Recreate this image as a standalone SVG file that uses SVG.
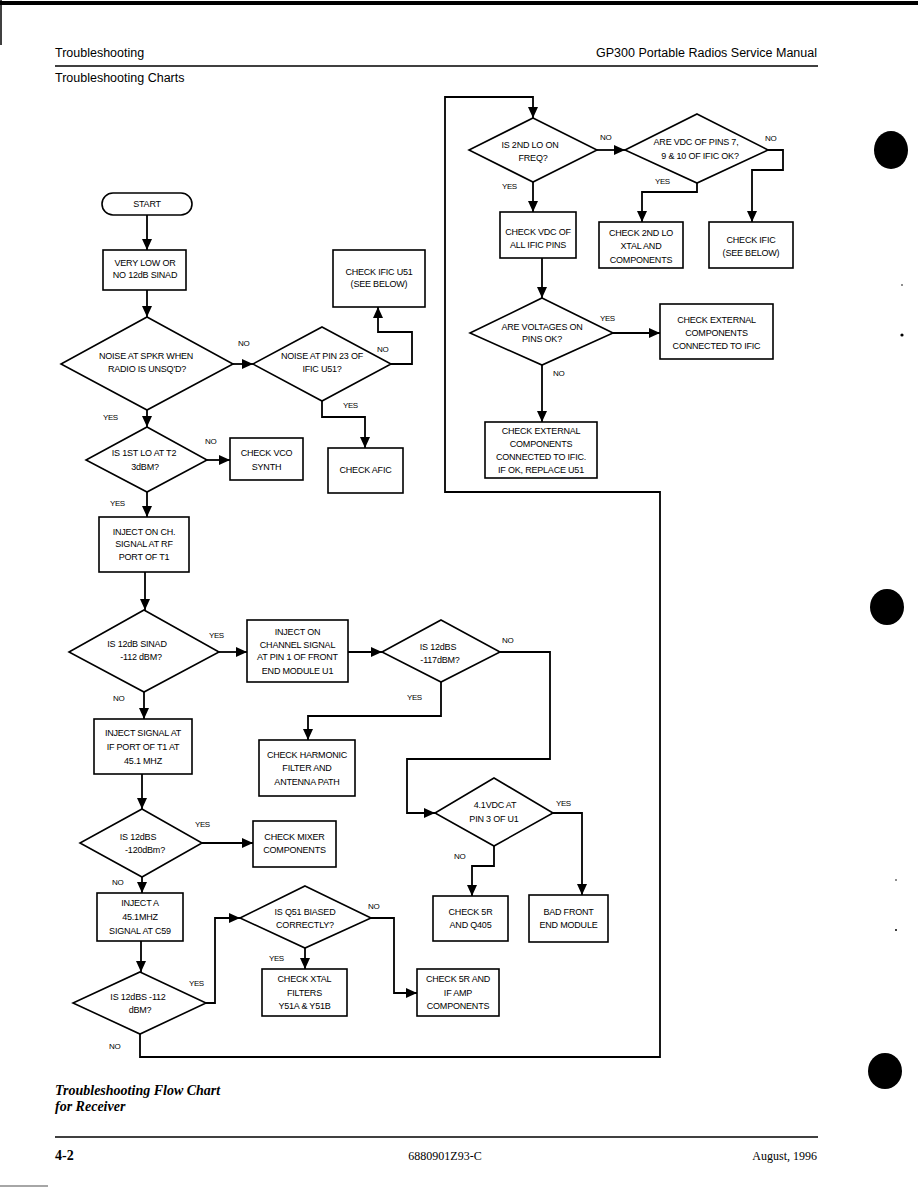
<svg xmlns="http://www.w3.org/2000/svg" width="918" height="1188" viewBox="0 0 918 1188">
<style>
.bx{fill:#fff;stroke:#000;stroke-width:1.6}
.t{font-family:"Liberation Sans",Arial,sans-serif;font-size:9px;text-anchor:middle;fill:#000;letter-spacing:-0.2px}
.l{font-family:"Liberation Sans",Arial,sans-serif;font-size:8px;fill:#000;letter-spacing:-0.4px}
.c{fill:none;stroke:#000;stroke-width:1.8}
.h{font-family:"Liberation Sans",Arial,sans-serif;font-size:12.5px;fill:#000}
.f{font-family:"Liberation Serif","Times New Roman",serif;fill:#000}
</style>
<defs>
<marker id="ah" markerUnits="userSpaceOnUse" markerWidth="12" markerHeight="12" refX="11" refY="6" orient="auto">
<path d="M0,1 L11,6 L0,11 Z" fill="#000"/>
</marker>
</defs>
<rect width="918" height="1188" fill="#fff"/>
<g id="page">
<rect x="0" y="1" width="918" height="4" fill="#000"/>
<line x1="1" y1="0" x2="1" y2="45" stroke="#000" stroke-width="1.5"/>
<text class="h" x="55" y="57">Troubleshooting</text>
<text class="h" x="817" y="57" text-anchor="end">GP300 Portable Radios Service Manual</text>
<line x1="55" y1="66" x2="818" y2="66" stroke="#000" stroke-width="1.5"/>
<text class="h" x="55" y="82">Troubleshooting Charts</text>
<text class="f" x="55" y="1095" font-size="14" font-style="italic" font-weight="bold">Troubleshooting Flow Chart</text>
<text class="f" x="55" y="1111" font-size="14" font-style="italic" font-weight="bold">for Receiver</text>
<line x1="55" y1="1137" x2="818" y2="1137" stroke="#000" stroke-width="1.5"/>
<text class="f" x="55" y="1160" font-size="14" font-weight="bold">4-2</text>
<text class="f" x="445" y="1160" font-size="12" text-anchor="middle">6880901Z93-C</text>
<text class="f" x="817" y="1160" font-size="12" text-anchor="end">August, 1996</text>
<line x1="0" y1="1186" x2="48" y2="1186" stroke="#888" stroke-width="1.5"/>
<ellipse cx="891" cy="150" rx="17" ry="19" fill="#000"/>
<ellipse cx="887" cy="607" rx="17" ry="18" fill="#000"/>
<ellipse cx="885" cy="1071" rx="17" ry="18" fill="#000"/>
<circle cx="902" cy="335" r="1.6" fill="#000"/>
<circle cx="902" cy="285" r="0.8" fill="#000"/>
<circle cx="896" cy="930" r="1" fill="#000"/>
<circle cx="896" cy="880" r="0.8" fill="#000"/>
</g>
<g id="connectors">
<path class="c" d="M147,215 V250" marker-end="url(#ah)"/>
<path class="c" d="M147,290 V317" marker-end="url(#ah)"/>
<path class="c" d="M233,364 H253" marker-end="url(#ah)"/>
<path class="c" d="M391,364 H412 V332 H378 V307" marker-end="url(#ah)"/>
<path class="c" d="M322,401 V417 H365 V448" marker-end="url(#ah)"/>
<path class="c" d="M147,410 V427" marker-end="url(#ah)"/>
<path class="c" d="M207,460 H230" marker-end="url(#ah)"/>
<path class="c" d="M147,492 V517" marker-end="url(#ah)"/>
<path class="c" d="M145,572 V610" marker-end="url(#ah)"/>
<path class="c" d="M219,652 H247" marker-end="url(#ah)"/>
<path class="c" d="M144,692 V719" marker-end="url(#ah)"/>
<path class="c" d="M348,652 H382" marker-end="url(#ah)"/>
<path class="c" d="M441,682 V716 H308 V740" marker-end="url(#ah)"/>
<path class="c" d="M500,652 H550 V759 H407 V813 H435" marker-end="url(#ah)"/>
<path class="c" d="M553,813 H582 V895" marker-end="url(#ah)"/>
<path class="c" d="M494,846 V866 H472 V896" marker-end="url(#ah)"/>
<path class="c" d="M142,774 V809" marker-end="url(#ah)"/>
<path class="c" d="M202,843 H253" marker-end="url(#ah)"/>
<path class="c" d="M142,877 V893" marker-end="url(#ah)"/>
<path class="c" d="M141,941 V972" marker-end="url(#ah)"/>
<path class="c" d="M206,1003 H215 V918 H240" marker-end="url(#ah)"/>
<path class="c" d="M140,1034 V1057 H660 V492 H445 V97 H533 V118" marker-end="url(#ah)"/>
<path class="c" d="M305,948 V969" marker-end="url(#ah)"/>
<path class="c" d="M371,918 H394 V993 H417" marker-end="url(#ah)"/>
<path class="c" d="M597,150 H625" marker-end="url(#ah)"/>
<path class="c" d="M533,182 V212" marker-end="url(#ah)"/>
<path class="c" d="M697,183 V192 H642 V222" marker-end="url(#ah)"/>
<path class="c" d="M768,150 H783 V170 H752 V222" marker-end="url(#ah)"/>
<path class="c" d="M542,258 V298" marker-end="url(#ah)"/>
<path class="c" d="M613,333 H660" marker-end="url(#ah)"/>
<path class="c" d="M542,365 V422" marker-end="url(#ah)"/>
<text class="l" x="238" y="346">NO</text>
<text class="l" x="377" y="352">NO</text>
<text class="l" x="343" y="408">YES</text>
<text class="l" x="103" y="420">YES</text>
<text class="l" x="205" y="444">NO</text>
<text class="l" x="110" y="506">YES</text>
<text class="l" x="209" y="638">YES</text>
<text class="l" x="113" y="701">NO</text>
<text class="l" x="407" y="700">YES</text>
<text class="l" x="502" y="643">NO</text>
<text class="l" x="556" y="806">YES</text>
<text class="l" x="454" y="859">NO</text>
<text class="l" x="195" y="827">YES</text>
<text class="l" x="112" y="885">NO</text>
<text class="l" x="189" y="986">YES</text>
<text class="l" x="109" y="1049">NO</text>
<text class="l" x="269" y="961">YES</text>
<text class="l" x="368" y="909">NO</text>
<text class="l" x="600" y="140">NO</text>
<text class="l" x="502" y="189">YES</text>
<text class="l" x="655" y="184">YES</text>
<text class="l" x="765" y="141">NO</text>
<text class="l" x="600" y="321">YES</text>
<text class="l" x="553" y="376">NO</text>
</g>
<g id="start"><rect class="bx" x="102" y="193" width="90" height="22" rx="11"/><text class="t" x="147" y="207">START</text></g>
<g id="very_low"><rect class="bx" x="103" y="250" width="83" height="40"/><text class="t" x="145" y="266">VERY LOW OR</text><text class="t" x="145" y="278">NO 12dB SINAD</text></g>
<g id="noise_spkr"><polygon class="bx" points="147,317 233,364 147,410 61,364"/><text class="t" x="146" y="359">NOISE AT SPKR WHEN</text><text class="t" x="147" y="372">RADIO IS UNSQ'D?</text></g>
<g id="noise_pin23"><polygon class="bx" points="322,327 391,364 322,401 253,364"/><text class="t" x="322" y="359">NOISE AT PIN 23 OF</text><text class="t" x="322" y="372">IFIC U51?</text></g>
<g id="check_ific_u51"><rect class="bx" x="333" y="250" width="92" height="57"/><text class="t" x="379" y="275">CHECK IFIC U51</text><text class="t" x="379" y="287">(SEE BELOW)</text></g>
<g id="check_afic"><rect class="bx" x="328" y="448" width="75" height="45"/><text class="t" x="365.5" y="473">CHECK AFIC</text></g>
<g id="first_lo"><polygon class="bx" points="147,427 207,460 147,492 86,460"/><text class="t" x="144" y="456">IS 1ST LO AT T2</text><text class="t" x="145" y="470">3dBM?</text></g>
<g id="check_vco"><rect class="bx" x="230" y="438" width="73" height="42"/><text class="t" x="266.5" y="456">CHECK VCO</text><text class="t" x="266.5" y="470">SYNTH</text></g>
<g id="inject_ch"><rect class="bx" x="99" y="517" width="90" height="55"/><text class="t" x="144" y="535">INJECT ON CH.</text><text class="t" x="144" y="547">SIGNAL AT RF</text><text class="t" x="144" y="560">PORT OF T1</text></g>
<g id="sinad_112"><polygon class="bx" points="144,610 219,652 144,692 69,652"/><text class="t" x="137" y="647">IS 12dB SINAD</text><text class="t" x="141" y="660">-112  dBM?</text></g>
<g id="inject_front"><rect class="bx" x="247" y="620" width="101" height="62"/><text class="t" x="297.5" y="635">INJECT ON</text><text class="t" x="297.5" y="648">CHANNEL SIGNAL</text><text class="t" x="297.5" y="660">AT PIN 1 OF FRONT</text><text class="t" x="297.5" y="674">END MODULE U1</text></g>
<g id="dbs_117"><polygon class="bx" points="441,620 500,652 441,682 382,652"/><text class="t" x="438" y="650">IS 12dBS</text><text class="t" x="440" y="663">-117dBM?</text></g>
<g id="check_harmonic"><rect class="bx" x="259" y="740" width="96" height="56"/><text class="t" x="307" y="758">CHECK HARMONIC</text><text class="t" x="307" y="771">FILTER AND</text><text class="t" x="307" y="785">ANTENNA PATH</text></g>
<g id="inject_if"><rect class="bx" x="94" y="719" width="98" height="55"/><text class="t" x="143" y="736">INJECT SIGNAL AT</text><text class="t" x="143" y="750">IF PORT OF T1 AT</text><text class="t" x="143" y="764">45.1  MHZ</text></g>
<g id="vdc_41"><polygon class="bx" points="494,778 553,813 494,846 435,813"/><text class="t" x="495" y="808">4.1VDC  AT</text><text class="t" x="494" y="822">PIN 3  OF U1</text></g>
<g id="check_5r_q405"><rect class="bx" x="433" y="896" width="75" height="45"/><text class="t" x="470.5" y="915">CHECK 5R</text><text class="t" x="470.5" y="928">AND  Q405</text></g>
<g id="bad_front"><rect class="bx" x="529" y="895" width="79" height="47"/><text class="t" x="568.5" y="915">BAD FRONT</text><text class="t" x="568.5" y="928">END MODULE</text></g>
<g id="dbs_120"><polygon class="bx" points="142,809 202,843 142,877 80,843"/><text class="t" x="138" y="840">IS 12dBS</text><text class="t" x="145" y="853">-120dBm?</text></g>
<g id="check_mixer"><rect class="bx" x="253" y="821" width="83" height="46"/><text class="t" x="294.5" y="840">CHECK MIXER</text><text class="t" x="294.5" y="853">COMPONENTS</text></g>
<g id="inject_a"><rect class="bx" x="97" y="893" width="86" height="48"/><text class="t" x="140" y="906">INJECT A</text><text class="t" x="140" y="920">45.1MHZ</text><text class="t" x="140" y="934">SIGNAL  AT C59</text></g>
<g id="dbs_112"><polygon class="bx" points="140,972 206,1003 140,1034 73,1003"/><text class="t" x="138" y="1000">IS 12dBS -112</text><text class="t" x="140" y="1013">dBM?</text></g>
<g id="q51_biased"><polygon class="bx" points="305,886 371,918 305,948 240,918"/><text class="t" x="305" y="915">IS Q51 BIASED</text><text class="t" x="305" y="928">CORRECTLY?</text></g>
<g id="check_xtal"><rect class="bx" x="262" y="969" width="85" height="47"/><text class="t" x="304.5" y="982">CHECK XTAL</text><text class="t" x="304.5" y="996">FILTERS</text><text class="t" x="304.5" y="1009">Y51A &amp; Y51B</text></g>
<g id="check_5r_ifamp"><rect class="bx" x="417" y="969" width="82" height="47"/><text class="t" x="458" y="982">CHECK 5R AND</text><text class="t" x="458" y="996">IF AMP</text><text class="t" x="458" y="1009">COMPONENTS</text></g>
<g id="second_lo"><polygon class="bx" points="533,118 597,150 533,182 469,150"/><text class="t" x="530" y="148">IS 2ND LO ON</text><text class="t" x="533" y="161">FREQ?</text></g>
<g id="vdc_pins"><polygon class="bx" points="697,114 768,150 697,183 625,150"/><text class="t" x="696" y="145">ARE VDC OF PINS 7,</text><text class="t" x="700" y="159">9 &amp; 10 OF IFIC OK?</text></g>
<g id="check_vdc_all"><rect class="bx" x="500" y="212" width="76" height="46"/><text class="t" x="538" y="235">CHECK VDC OF</text><text class="t" x="538" y="248">ALL IFIC PINS</text></g>
<g id="check_2nd_lo"><rect class="bx" x="599" y="222" width="84" height="46"/><text class="t" x="641" y="236">CHECK 2ND LO</text><text class="t" x="641" y="249">XTAL AND</text><text class="t" x="641" y="263">COMPONENTS</text></g>
<g id="check_ific"><rect class="bx" x="709" y="222" width="84" height="46"/><text class="t" x="751" y="243">CHECK IFIC</text><text class="t" x="751" y="256">(SEE BELOW)</text></g>
<g id="voltages_ok"><polygon class="bx" points="542,298 613,333 542,365 470,333"/><text class="t" x="542" y="330">ARE VOLTAGES ON</text><text class="t" x="542" y="342">PINS OK?</text></g>
<g id="check_ext"><rect class="bx" x="660" y="304" width="113" height="55"/><text class="t" x="716.5" y="323">CHECK EXTERNAL</text><text class="t" x="716.5" y="336">COMPONENTS</text><text class="t" x="716.5" y="349">CONNECTED TO IFIC</text></g>
<g id="check_ext_replace"><rect class="bx" x="485" y="422" width="112" height="56"/><text class="t" x="541" y="434">CHECK EXTERNAL</text><text class="t" x="541" y="447">COMPONENTS</text><text class="t" x="541" y="460">CONNECTED TO IFIC.</text><text class="t" x="541" y="473">IF OK,  REPLACE U51</text></g>
</svg>
